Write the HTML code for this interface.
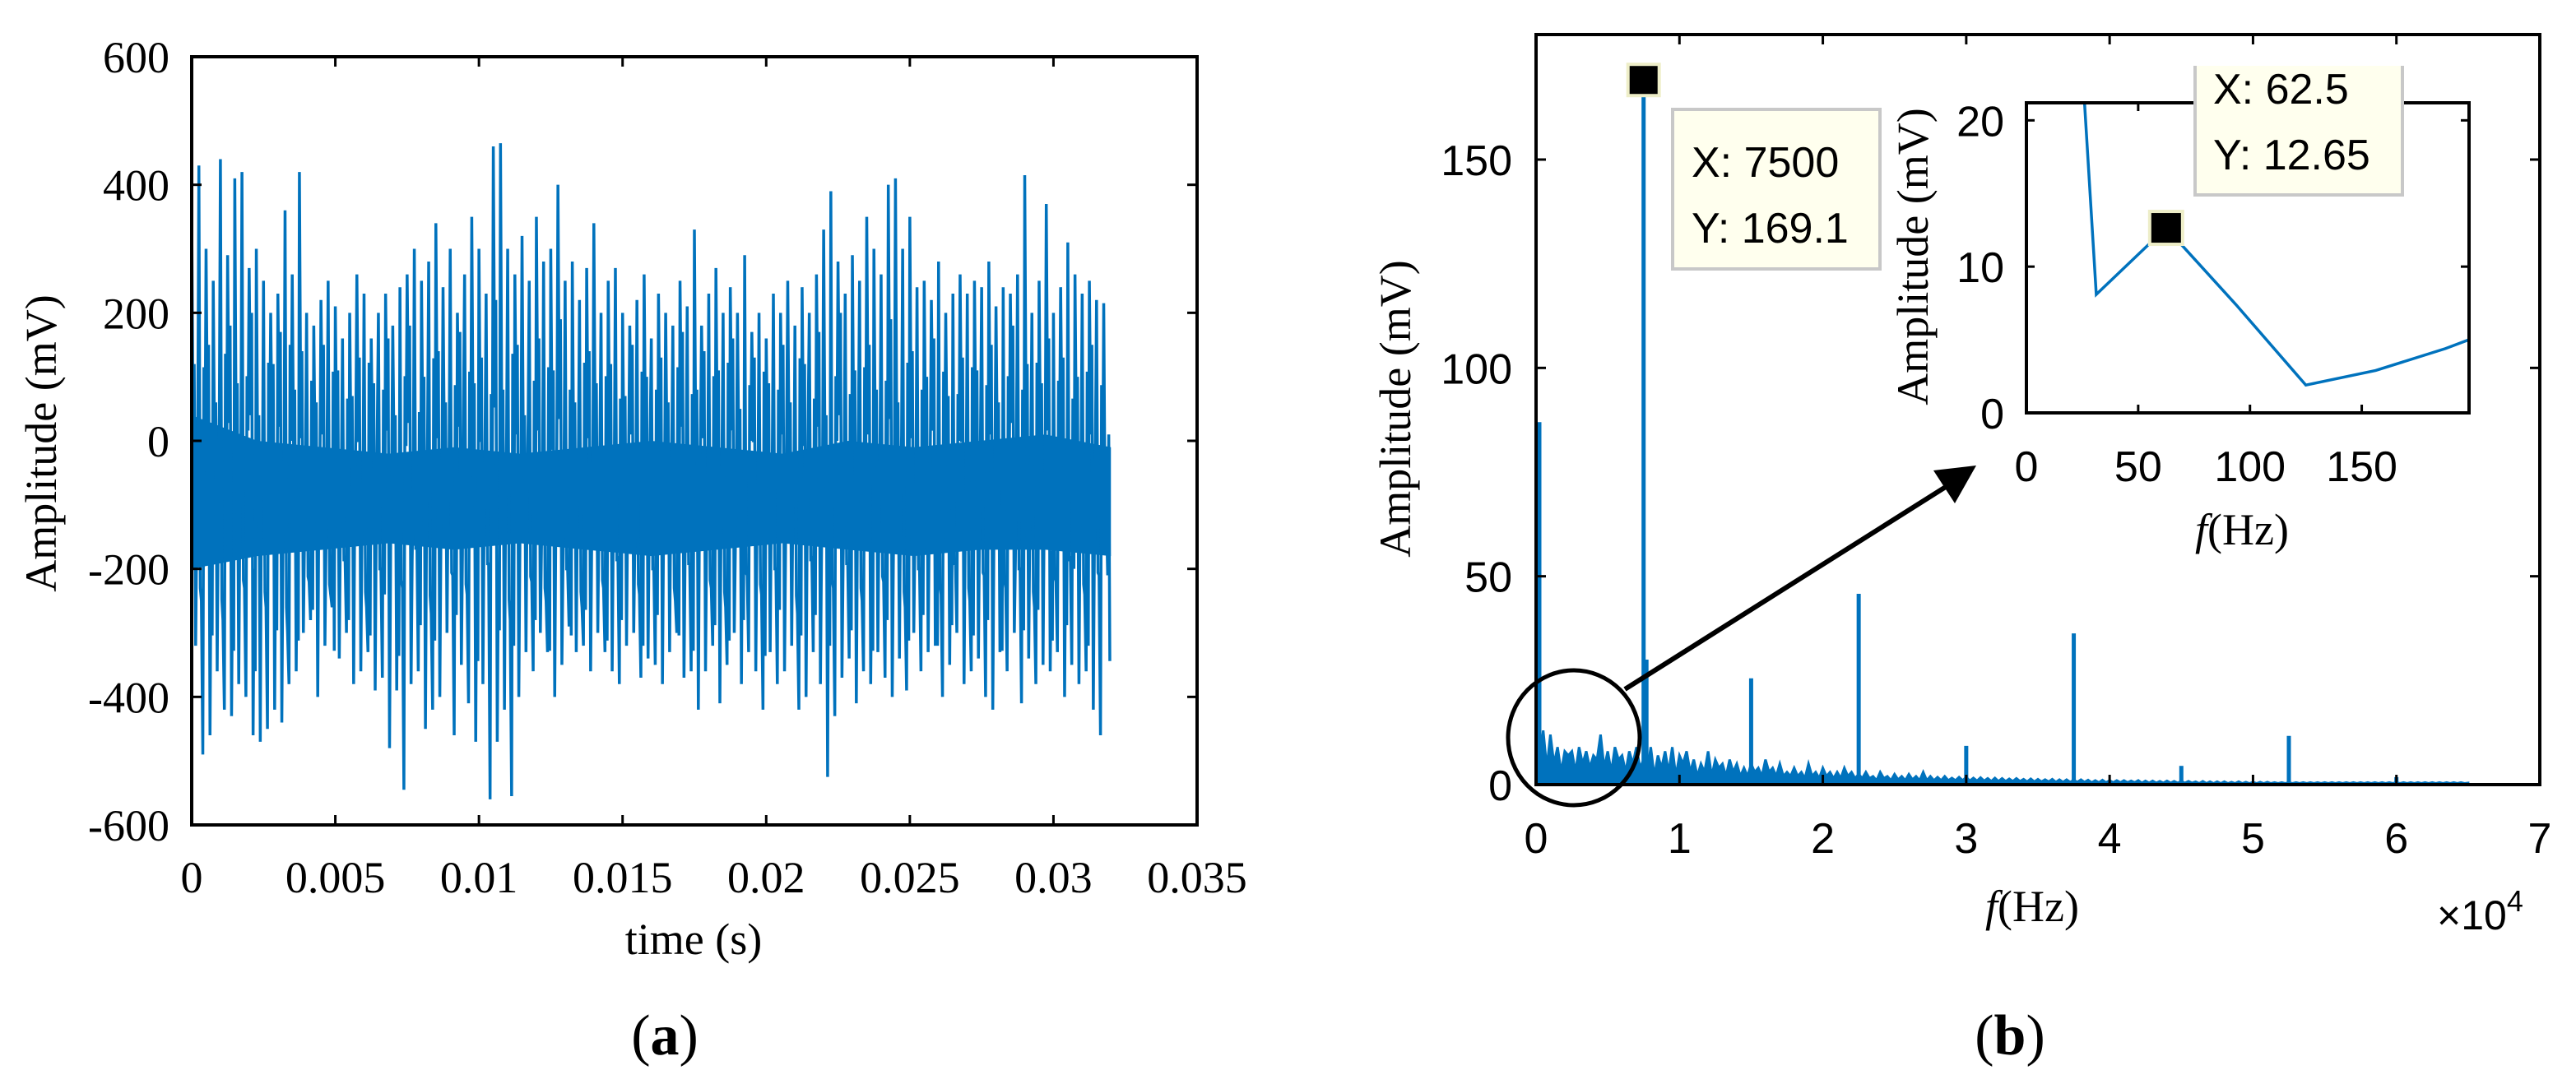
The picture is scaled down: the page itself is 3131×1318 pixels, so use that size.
<!DOCTYPE html>
<html><head><meta charset="utf-8"><style>
html,body{margin:0;padding:0;background:#fff;}
svg{display:block;}
.tf{font-family:"Liberation Serif",serif;}
.af{font-family:"Liberation Sans",sans-serif;}
</style></head><body>
<svg id="fig" width="3131" height="1318" viewBox="0 0 3131 1318" xmlns="http://www.w3.org/2000/svg">
<defs>
<clipPath id="clipA"><rect x="233" y="69" width="1222" height="934"/></clipPath>
<clipPath id="clipB"><rect x="1867" y="42" width="1220" height="912"/></clipPath>
<clipPath id="clipI"><rect x="2463" y="125" width="538" height="377"/></clipPath>
</defs>
<g id="panelA"></g>
<g id="panelB"></g>
</svg>
<script>
// ---------- Panel (a) data ----------
const timeXTicks = [0,0.005,0.01,0.015,0.02,0.025,0.03,0.035];
const timeXTickLabels = ["0","0.005","0.01","0.015","0.02","0.025","0.03","0.035"];
const timeYTicks = [-600,-400,-200,0,200,400,600];
const timeBinWidth = 0.00025;
const timeHi = [360,430,300,250,440,290,410,420,270,300,250,200,230,360,260,420,
 200,180,220,250,210,160,200,260,230,160,200,230,180,240,260,300,
 250,280,340,240,300,200,260,350,300,230,460,465,300,260,320,250,
 350,280,300,400,250,280,220,270,340,200,250,270,200,180,220,260,
 160,230,200,180,250,210,330,180,230,270,200,240,200,290,170,200,
 160,230,200,250,180,240,200,260,330,390,280,230,290,250,350,300,
 260,400,410,300,350,240,250,220,280,200,230,260,230,250,240,280,
 210,240,230,260,415,200,250,370,200,240,310,260,230,250,220,215];
const timeLo = [-320,-490,-460,-360,-420,-430,-380,-400,-460,-470,-450,-420,-440,-380,-360,-300,
 -280,-400,-320,-260,-340,-300,-380,-360,-330,-390,-370,-480,-390,-545,-380,-360,
 -450,-420,-400,-300,-460,-350,-410,-470,-380,-560,-470,-420,-555,-400,-330,-360,
 -300,-330,-400,-350,-290,-330,-320,-360,-300,-330,-360,-380,-320,-300,-370,-340,
 -350,-380,-330,-300,-370,-360,-420,-360,-320,-410,-350,-300,-380,-330,-360,-420,
 -330,-380,-360,-320,-420,-400,-330,-380,-525,-430,-370,-340,-410,-360,-380,-330,
 -370,-400,-340,-390,-300,-360,-330,-320,-400,-350,-300,-380,-360,-340,-400,-420,
 -330,-360,-300,-410,-340,-380,-350,-360,-330,-400,-350,-380,-360,-420,-460,-210];
const timeMid = [120,-250,150,60,-280,180,90,-230,200,40,-260,120,170,-300,80,140,
 -220,60,150,-240,110,-180,70,130,-260,90,-200,160,40,-230,180,-150,
 100,-270,140,60,-210,170,-240,90,130,-190,220,80,-280,150,40,-220,
 160,-250,110,190,-200,60,-260,140,90,-230,120,-180,70,150,-240,100,
 -200,130,60,-250,170,-190,80,140,-230,110,-260,160,50,-210,130,-240,
 90,-200,150,60,-270,120,-180,170,40,-230,200,-190,110,-250,150,80,
 -220,190,60,-260,140,-200,100,160,-240,70,-190,130,-250,110,-210,150,
 60,-230,180,-200,120,-260,90,160,-220,130,-180,100,-240,150,-210,-100];
const coreTop = [40,0,-10,-20,-10,-20,-10,0,-10,-20,0,-10,0,10,-10];
const coreBot = [-200,-180,-170,-160,-170,-160,-170,-180,-170,-160,-170,-180,-170,-170,-180];

// ---------- Panel (b) data ----------
const freqXTicks = [0,1,2,3,4,5,6,7];
const freqYTicks = [0,50,100,150];
const noiseStep = 250;
const noiseTop = [16,6,13,4,12,5,9,3,8,7,8,3,9,5,8,4,7,6,12,4,
 8,3,9,6,7,3,8,5,9,4,6,3,9,2,7,4,8,3,9,2,
 7,5,8,3,6,2,5,3,8,2,6,4,5,2,6,3,5,2,4,2,
 5,3,4,2,6,3,4,2,5,2,3,2,4,2,3,1.5,5,2,3,1.5,
 4,2,3,1.5,3,1.5,4,2,3,1.5,2.5,1.5,3,1.5,2,1,3,1.5,2,1,
 2.5,1.2,2,1,2.5,1.2,2,1,3,1,2,1,1.8,1,2,1,1.6,1,1.8,1,
 1.8,0.9,1.6,0.9,1.7,0.9,1.5,0.8,1.6,0.8,1.5,0.8,1.4,0.8,1.5,0.8,1.3,0.7,1.4,0.7,
 1.3,0.7,1.2,0.7,1.3,0.6,1.2,0.6,1.2,0.6,1.1,0.6,1.2,0.6,1.1,0.5,1,0.5,1.1,0.5,
 1,0.5,1,0.5,1,0.5,0.9,0.5,1,0.4,0.9,0.4,0.9,0.4,0.8,0.4,0.9,0.4,0.8,0.4,
 0.8,0.4,0.8,0.4,0.7,0.3,0.8,0.3,0.7,0.3,0.7,0.3,0.7,0.3,0.6,0.3,0.7,0.3,0.6,0.3,
 0.6,0.3,0.6,0.3,0.6,0.3,0.5,0.3,0.5,0.3,0.5,0.3,0.5,0.3,0.5,0.3,0.5,0.3,0.5,0.3,
 0.5,0.3,0.5,0.3,0.5,0.3,0.5,0.3,0.5,0.3,0.5,0.3,0.5,0.3,0.5,0.3,0.5,0.3,0.5,0.3,
 0.5,0.3,0.5,0.3,0.5,0.3,0.5,0.3,0.5,0.3,0.5,0.3,0.5,0.3,0.5,0.3,0.5,0.3,0.5,0.3,0.4];
const peakFreqs = [0,7500,7700,15000,22500,30000,37500,45000,52500,60000];
const peakVals = [87,169.1,30,25.5,45.8,9.3,36.3,4.5,11.7,1.8];
const insetFreqs = [0,31.25,62.5,93.75,125,156.25,187.5,218.75];
const insetVals = [86,8.1,12.65,7.4,1.9,2.9,4.4,6.2];
const insetXTicks = [0,50,100,150];
const insetYTicks = [0,10,20];

const NS="http://www.w3.org/2000/svg";
function mk(parent,tag,attrs,text){const e=document.createElementNS(NS,tag);for(const k in attrs)e.setAttribute(k,attrs[k]);if(text!==undefined)e.textContent=text;parent.appendChild(e);return e;}

// ===== Panel A =====
const A=document.getElementById('panelA');
const ax={x0:233,x1:1455,y0:1003,y1:69,xmin:0,xmax:0.035,ymin:-600,ymax:600};
const tx=v=>ax.x0+(v-ax.xmin)/(ax.xmax-ax.xmin)*(ax.x1-ax.x0);
const ty=v=>ax.y0-(v-ax.ymin)/(ax.ymax-ax.ymin)*(ax.y0-ax.y1);
const gA=mk(A,'g',{'clip-path':'url(#clipA)'});


{let tEnd=timeHi.length*timeBinWidth;let pts=[];
 coreTop.forEach((v,i)=>pts.push(tx(i/(coreTop.length-1)*tEnd)+','+ty(v)));
 for(let i=coreBot.length-1;i>=0;i--)pts.push(tx(i/(coreBot.length-1)*tEnd)+','+ty(coreBot[i]));
 const band=mk(gA,'polygon',{points:pts.join(' '),fill:'#0072BD'});
 
 }
{let pts=[];
 for(let i=0;i<timeHi.length;i++){
  pts.push(tx(i*timeBinWidth)+','+ty(timeHi[i]));
  pts.push(tx((i+0.2)*timeBinWidth)+','+ty(timeMid[i]*0.6-80));
  pts.push(tx((i+0.35)*timeBinWidth)+','+ty(timeMid[i]));
  pts.push(tx((i+0.55)*timeBinWidth)+','+ty(timeLo[i]));
  pts.push(tx((i+0.7)*timeBinWidth)+','+ty(-timeMid[i]*0.7-60));
  pts.push(tx((i+0.85)*timeBinWidth)+','+ty(timeMid[(i+5)%timeMid.length]*0.8-120));
 }
 const ln=mk(gA,'polyline',{points:pts.join(' '),fill:'none',stroke:'#0072BD','stroke-width':3.5,'stroke-linejoin':'miter'});
 
 }
const frA=mk(A,'rect',{x:ax.x0,y:ax.y1,width:ax.x1-ax.x0,height:ax.y0-ax.y1,fill:'none',stroke:'#000','stroke-width':4});


timeXTicks.forEach((v,i)=>{
 mk(A,'line',{x1:tx(v),x2:tx(v),y1:ax.y0,y2:ax.y0-12,stroke:'#000','stroke-width':3});
 mk(A,'line',{x1:tx(v),x2:tx(v),y1:ax.y1,y2:ax.y1+12,stroke:'#000','stroke-width':3});
 const t=mk(A,'text',{x:tx(v),y:1085,'text-anchor':'middle','font-size':54,class:'tf'},timeXTickLabels[i]);
 
 
});
timeYTicks.forEach(v=>{
 mk(A,'line',{x1:ax.x0,x2:ax.x0+12,y1:ty(v),y2:ty(v),stroke:'#000','stroke-width':3});
 mk(A,'line',{x1:ax.x1,x2:ax.x1-12,y1:ty(v),y2:ty(v),stroke:'#000','stroke-width':3});
 const t=mk(A,'text',{x:206,y:ty(v)+19,'text-anchor':'end','font-size':54,class:'tf'},String(v));
 
 
});
{const t=mk(A,'text',{x:843,y:1160,'text-anchor':'middle','font-size':54,class:'tf'},'time (s)');
 
 
 const y=mk(A,'text',{x:0,y:0,'text-anchor':'middle','font-size':54,class:'tf',transform:'translate(68,539) rotate(-90)'},'Amplitude (mV)');
 
 
 const c=mk(A,'text',{x:808,y:1282,'text-anchor':'middle','font-size':70,class:'tf'});
 c.innerHTML='(<tspan font-weight="bold">a</tspan>)';
 
 }

// ===== Panel B =====
const B=document.getElementById('panelB');
const bx={x0:1867,x1:3087,y0:954,y1:42,xmin:0,xmax:70000,ymin:0,ymax:180};
const fx=v=>bx.x0+(v-bx.xmin)/(bx.xmax-bx.xmin)*(bx.x1-bx.x0);
const fy=v=>bx.y0-(v-bx.ymin)/(bx.ymax-bx.ymin)*(bx.y0-bx.y1);
const gB=mk(B,'g',{'clip-path':'url(#clipB)'});


{let pts=[fx(0)+','+fy(0)];
 noiseTop.forEach((v,i)=>pts.push(fx(i*noiseStep)+','+fy(v)));
 pts.push(fx((noiseTop.length-1)*noiseStep)+','+fy(0));
 const p=mk(gB,'polygon',{points:pts.join(' '),fill:'#0072BD',stroke:'#0072BD','stroke-width':3,'stroke-linejoin':'miter'});
 
 }
peakFreqs.forEach((f,i)=>{
 const x=fx(f)+(f===0?4:0);
 const l=mk(gB,'line',{x1:x,x2:x,y1:fy(0),y2:fy(peakVals[i]),stroke:'#0072BD','stroke-width':5});
 
 
});
const frB=mk(B,'rect',{x:bx.x0,y:bx.y1,width:bx.x1-bx.x0,height:bx.y0-bx.y1,fill:'none',stroke:'#000','stroke-width':4});


freqXTicks.forEach(v=>{
 mk(B,'line',{x1:fx(v*1e4),x2:fx(v*1e4),y1:bx.y0,y2:bx.y0-12,stroke:'#000','stroke-width':3});
 mk(B,'line',{x1:fx(v*1e4),x2:fx(v*1e4),y1:bx.y1,y2:bx.y1+12,stroke:'#000','stroke-width':3});
 const t=mk(B,'text',{x:fx(v*1e4),y:1037,'text-anchor':'middle','font-size':52,class:'af'},String(v));
 
 
});
freqYTicks.forEach(v=>{
 mk(B,'line',{x1:bx.x0,x2:bx.x0+12,y1:fy(v),y2:fy(v),stroke:'#000','stroke-width':3});
 mk(B,'line',{x1:bx.x1,x2:bx.x1-12,y1:fy(v),y2:fy(v),stroke:'#000','stroke-width':3});
 const t=mk(B,'text',{x:1838,y:fy(v)+19,'text-anchor':'end','font-size':52,class:'af'},String(v));
 
 
});
{const t=mk(B,'text',{x:2470,y:1120,'text-anchor':'middle','font-size':54,class:'tf'});
 t.innerHTML='<tspan font-style="italic">f</tspan>(Hz)';
 
 
 const e=mk(B,'text',{x:2962,y:1130,'font-size':50,class:'af'});
 e.innerHTML='×10<tspan font-size="36" dy="-22">4</tspan>';
 
 
 const y=mk(B,'text',{x:0,y:0,'text-anchor':'middle','font-size':54,class:'tf',transform:'translate(1714,497) rotate(-90)'},'Amplitude (mV)');
 
 
 const c=mk(B,'text',{x:2443,y:1282,'text-anchor':'middle','font-size':70,class:'tf'});
 c.innerHTML='(<tspan font-weight="bold">b</tspan>)';
 
 }
{const m=mk(B,'rect',{x:fx(7500)-19,y:fy(169.1)-19,width:38,height:38,fill:'#000',stroke:'#eeeec8','stroke-width':4});
 
 
 const box=mk(B,'rect',{x:2033,y:133,width:252,height:194,fill:'#ffffee',stroke:'#c8c8c8','stroke-width':4});
 
 
 const t1=mk(B,'text',{x:2056,y:215,'font-size':52,class:'af'},'X: 7500');
 
 
 const t2=mk(B,'text',{x:2056,y:295,'font-size':52,class:'af'},'Y: 169.1');
 
 }
{const c=mk(B,'ellipse',{cx:1913,cy:897,rx:80,ry:82,fill:'none',stroke:'#000','stroke-width':5});
 
 
 const a=mk(B,'line',{x1:1975,y1:838,x2:2368,y2:590,stroke:'#000','stroke-width':6});
 
 
 const h=mk(B,'polygon',{points:'2402,566 2350,572 2376,612',fill:'#000'});
 
 }
const ix={x0:2463,x1:3001,y0:502,y1:125,xmin:0,xmax:198,ymin:0,ymax:21.2};
const gx=v=>ix.x0+(v-ix.xmin)/(ix.xmax-ix.xmin)*(ix.x1-ix.x0);
const gy=v=>ix.y0-(v-ix.ymin)/(ix.ymax-ix.ymin)*(ix.y0-ix.y1);
{const bg=mk(B,'rect',{x:ix.x0,y:ix.y1,width:ix.x1-ix.x0,height:ix.y0-ix.y1,fill:'#fff'});
 
 
 const g=mk(B,'g',{'clip-path':'url(#clipI)'});
 const ln=mk(g,'polyline',{points:insetFreqs.map((f,i)=>gx(f)+','+gy(insetVals[i])).join(' '),fill:'none',stroke:'#0072BD','stroke-width':3.5});
 
 
 const fr=mk(B,'rect',{x:ix.x0,y:ix.y1,width:ix.x1-ix.x0,height:ix.y0-ix.y1,fill:'none',stroke:'#000','stroke-width':4});
 
 }
insetXTicks.forEach(v=>{
 mk(B,'line',{x1:gx(v),x2:gx(v),y1:ix.y0,y2:ix.y0-10,stroke:'#000','stroke-width':3});
 mk(B,'line',{x1:gx(v),x2:gx(v),y1:ix.y1,y2:ix.y1+10,stroke:'#000','stroke-width':3});
 const t=mk(B,'text',{x:gx(v),y:585,'text-anchor':'middle','font-size':52,class:'af'},String(v));
 
 
});
insetYTicks.forEach(v=>{
 mk(B,'line',{x1:ix.x0,x2:ix.x0+10,y1:gy(v),y2:gy(v),stroke:'#000','stroke-width':3});
 mk(B,'line',{x1:ix.x1,x2:ix.x1-10,y1:gy(v),y2:gy(v),stroke:'#000','stroke-width':3});
 const t=mk(B,'text',{x:2436,y:gy(v)+19,'text-anchor':'end','font-size':52,class:'af'},String(v));
 
 
});
{const t=mk(B,'text',{x:2725,y:662,'text-anchor':'middle','font-size':54,class:'tf'});
 t.innerHTML='<tspan font-style="italic">f</tspan>(Hz)';
 
 
 const y=mk(B,'text',{x:0,y:0,'text-anchor':'middle','font-size':54,class:'tf',transform:'translate(2343,312) rotate(-90)'},'Amplitude (mV)');
 
 
 const m=mk(B,'rect',{x:gx(62.5)-20,y:gy(12.65)-20,width:40,height:40,fill:'#000',stroke:'#eeeec8','stroke-width':4});
 
 
 const box=mk(B,'path',{d:'M2668,80 L2668,237 L2920,237 L2920,80',fill:'#ffffee',stroke:'#c8c8c8','stroke-width':4});
 
 
 const t1=mk(B,'text',{x:2690,y:126,'font-size':52,class:'af'},'X: 62.5');
 
 
 const t2=mk(B,'text',{x:2690,y:206,'font-size':52,class:'af'},'Y: 12.65');
 
 }
</script>
</body></html>
